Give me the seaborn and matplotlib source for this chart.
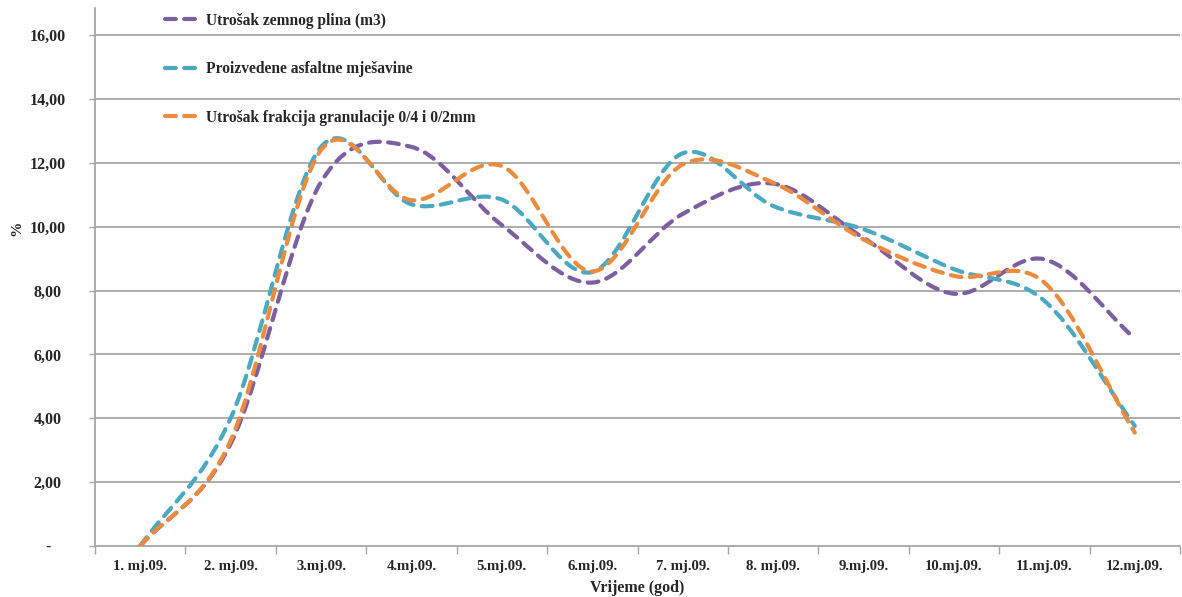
import numpy as np
import pandas as pd
import matplotlib
matplotlib.use('Agg')
import matplotlib.pyplot as plt
from matplotlib.path import Path
from matplotlib.patches import PathPatch
from matplotlib.lines import Line2D
import seaborn as sns

# ── Data ────────────────────────────────────────────────────────────────────
months = ["1. mj.09.", "2. mj.09.", "3.mj.09.", "4.mj.09.", "5.mj.09.", "6.mj.09.",
          "7. mj.09.", "8. mj.09.", "9.mj.09.", "10.mj.09.", "11.mj.09.", "12.mj.09."]

plin = [0.0, 3.2, 11.4, 12.5, 10.05, 8.25, 10.4, 11.35, 9.65, 7.9, 8.98, 6.5]
asfalt = [0.0, 4.0, 12.5, 10.7, 10.85, 8.58, 12.3, 10.65, 9.92, 8.67, 7.68, 3.76]
frakcija = [0.0, 3.3, 12.4, 10.83, 11.9, 8.6, 11.95, 11.38, 9.6, 8.46, 8.25, 3.55]

series_names = ["Utrošak zemnog plina (m3)",
                "Proizvedene asfaltne mješavine",
                "Utrošak frakcija granulacije 0/4 i 0/2mm"]
colors = ["#7B5FA1", "#4AA8C0", "#EC8B3D"]

yticks = [0, 2, 4, 6, 8, 10, 12, 14, 16]
ytick_labels = ["-", "2,00", "4,00", "6,00", "8,00", "10,00", "12,00", "14,00", "16,00"]

df = pd.DataFrame({"month": months, series_names[0]: plin,
                   series_names[1]: asfalt, series_names[2]: frakcija})


def smooth_path(xs, ys):
    """Excel-style smoothed line: cubic Bezier segments through the points."""
    pts = np.column_stack([xs, ys]).astype(float)
    n = len(pts)
    verts = [pts[0]]
    codes = [Path.MOVETO]
    for i in range(n - 1):
        p1, p2 = pts[i], pts[i + 1]
        p0 = pts[i - 1] if i > 0 else 2 * p1 - p2
        p3 = pts[i + 2] if i + 2 < n else 2 * p2 - p1
        c1 = p1 + (p2 - p0) / 6.0
        c2 = p2 - (p3 - p1) / 6.0
        verts += [c1, c2, p2]
        codes += [Path.CURVE4] * 3
    return Path(verts, codes)


sns.set_theme(style="white")
plt.rcParams['font.family'] = ['Liberation Serif', 'DejaVu Serif']
plt.rcParams['font.weight'] = 'bold'

fig = plt.figure(figsize=(11.82, 5.97), dpi=100)
ax = fig.add_axes([95 / 1182, 51 / 597, 1085 / 1182, 538 / 597])

x = np.arange(len(months))
dash = (0, (2.6, 2.0))
handles = []
for name, col in zip(series_names, colors):
    patch = PathPatch(smooth_path(x, df[name].values), facecolor="none",
                      edgecolor=col, lw=3.0, linestyle=dash,
                      capstyle="round", joinstyle="round", zorder=3)
    ax.add_patch(patch)
    handles.append(Line2D([], [], color=col, lw=3.0, linestyle=dash,
                          dash_capstyle="round"))

ax.set_xlim(-0.5, len(months) - 0.5)
ax.set_ylim(0, 16.85)

# grid
for v in yticks[1:]:
    ax.axhline(v, color="#a6a6a6", lw=1.3, zorder=1)

ax.set_yticks(yticks)
ax.set_yticklabels(ytick_labels, fontsize=11.5, fontweight="bold")
ax.set_xticks(x)
ax.set_xticklabels(months, fontsize=10.6, fontweight="bold")
ax.set_xticks(np.arange(len(months) + 1) - 0.5, minor=True)
ax.tick_params(axis="x", which="major", length=0, pad=10)
ax.tick_params(axis="x", which="minor", length=6, width=1, color="#a6a6a6",
               direction="out", bottom=True)
ax.tick_params(axis="y", length=4, width=1, color="#a6a6a6", direction="out",
               left=True, pad=30)
for lab in ax.get_yticklabels():
    lab.set_horizontalalignment("center")

sns.despine(ax=ax, top=True, right=True)
for side in ["left", "bottom"]:
    ax.spines[side].set_color("#a6a6a6")
    ax.spines[side].set_linewidth(1.3)

ax.set_xlabel("Vrijeme (god)", fontsize=11.5, fontweight="bold", labelpad=5)
ax.set_ylabel("%", fontsize=11, fontweight="bold")
ax.yaxis.set_label_coords(-0.066, 0.59)

leg = ax.legend(handles, series_names, loc="upper left",
                bbox_to_anchor=(0.0515, 1.0175), frameon=False,
                prop={"family": "Liberation Serif", "weight": "bold", "size": 11.2},
                handlelength=2.25, handletextpad=0.4, labelspacing=2.1)

fig.savefig("out.png", dpi=100)
